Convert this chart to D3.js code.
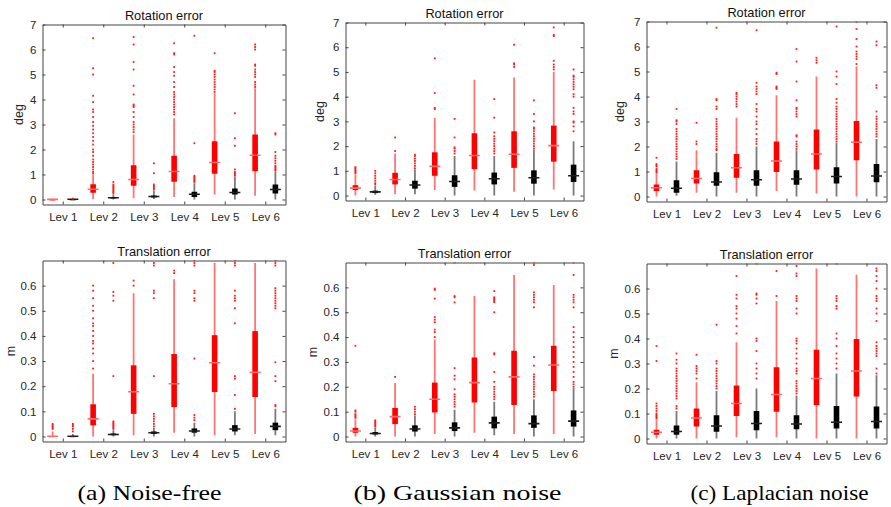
<!DOCTYPE html>
<html><head><meta charset="utf-8">
<script src="https://cdn.jsdelivr.net/npm/d3@7"></script>
<style>body{margin:0;background:#fff}svg{display:block}</style>
</head><body><svg id="c" width="891" height="507"></svg>
<script>
// ---------- labels ----------
const levels = ["Lev 1","Lev 2","Lev 3","Lev 4","Lev 5","Lev 6"];
const rotTicks = [0,1,2,3,4,5,6,7];
const transTicks = [0,0.1,0.2,0.3,0.4,0.5,0.6];
const captions = ["(a) Noise-free","(b) Gaussian noise","(c) Laplacian noise"];
const titles = ["Rotation error","Translation error"];
const units = ["deg","m"];
// box order: red Lev1, black Lev1, red Lev2, black Lev2, ...
// stats: [whiskerLow, q1, median, q3, whiskerHigh]

// ---------- (a) Noise-free ----------
const rotNoiseFreeStats = [
 [0,0,0.005,0.01,0.03],[0,0.005,0.01,0.015,0.03],
 [0.02,0.27,0.41,0.61,1.0],[0,0.04,0.07,0.1,0.2],
 [0.05,0.55,0.8,1.37,2.6],[0.02,0.08,0.12,0.16,0.35],
 [0.1,0.71,1.12,1.75,3.25],[0,0.1,0.21,0.31,0.65],
 [0.2,1.03,1.48,2.33,4.25],[0,0.2,0.28,0.44,0.9],
 [0.15,1.13,1.77,2.6,4.45],[0,0.24,0.4,0.6,1.1]];
const rotNoiseFreeOut = [
 [],[0.035],
 [1.05,1.1,1.2,1.3,1.4,1.5,1.6,1.75,1.9,2.0,2.2,2.35,2.5,2.65,2.8,2.95,3.1,3.3,3.5,3.6,3.9,4.15,5.0,5.25,6.45],
 [0.25,0.3,0.35,0.4,0.45,0.5,0.55,0.6,0.7],
 [2.7,2.8,2.9,3.0,3.1,3.3,3.5,3.7,3.75,3.8,4.2,4.55,5.2,5.5,6.2,6.5],
 [0.4,0.45,0.5,0.55,0.6,1.05,1.45],
 [3.4,3.5,3.6,3.7,3.8,3.9,4.0,4.1,4.2,4.3,4.5,4.7,4.95,5.1,5.3,5.8,5.85,6.25],
 [0.7,0.75,0.8,0.85,0.9,0.95,2.25,6.55],
 [4.3,4.4,4.5,4.6,4.7,4.8,4.9,5.0,5.1,5.15,5.85],
 [0.95,1.0,1.05,1.1,1.2,2.15,2.45,3.45],
 [4.5,4.6,4.7,4.9,5.0,5.1,5.2,5.35,5.4,6.0,6.1,6.2],
 [1.15,1.2,1.25,1.3,1.35,1.45,1.55,1.65,1.75,1.9,2.6,2.65]];
const transNoiseFreeStats = [
 [0,0,0.001,0.002,0.02],[0,0,0.001,0.002,0.01],
 [0,0.044,0.07,0.128,0.25],[0,0.005,0.008,0.012,0.025],
 [0.005,0.09,0.178,0.283,0.57],[0,0.01,0.015,0.02,0.035],
 [0.015,0.117,0.21,0.328,0.625],[0,0.015,0.022,0.032,0.055],
 [0.005,0.177,0.293,0.403,0.69],[0.005,0.02,0.03,0.045,0.1],
 [0.01,0.157,0.255,0.419,0.69],[0.005,0.025,0.04,0.055,0.11]];
const transNoiseFreeOut = [
 [0.03,0.035,0.04,0.045,0.05],[0.02,0.03,0.04,0.045,0.05],
 [0.27,0.3,0.33,0.35,0.37,0.38,0.4,0.42,0.44,0.45,0.47,0.5,0.52,0.55,0.58,0.6],
 [0.03,0.035,0.04,0.045,0.05,0.055,0.06,0.24,0.54,0.56,0.575,0.69],
 [0.6,0.62],
 [0.04,0.05,0.06,0.07,0.08,0.09,0.24,0.55,0.57,0.58,0.68,0.69],
 [0.65,0.66],
 [0.065,0.075,0.085,0.31,0.54,0.55,0.57,0.58,0.68,0.69,0.7],
 [],
 [0.11,0.165,0.23,0.24,0.45,0.51,0.54,0.55,0.56,0.58,0.68,0.69,0.7],
 [],
 [0.12,0.125,0.22,0.24,0.295,0.51,0.52,0.53,0.54,0.55,0.56,0.57,0.58,0.59,0.68,0.69,0.7]];

// ---------- (b) Gaussian noise ----------
const rotGaussStats = [
 [0,0.22,0.3,0.42,0.85],[0.03,0.1,0.15,0.2,0.4],
 [0.05,0.45,0.65,0.92,1.7],[0.05,0.28,0.43,0.6,1.05],
 [0.22,0.8,1.18,1.75,3.15],[0,0.35,0.57,0.82,1.6],
 [0.2,1.07,1.62,2.52,4.68],[0,0.45,0.68,0.93,1.6],
 [0.15,1.12,1.67,2.6,4.78],[0,0.48,0.72,1.02,1.85],
 [0.25,1.37,2.02,2.83,5.0],[0,0.55,0.8,1.25,2.2]];
const rotGaussOut = [
 [0.9,0.95,1.0,1.05,1.1,1.15],
 [0.45,0.5,0.6,0.7,0.8,0.9,1.0],
 [1.8,2.35],
 [1.1,1.2,1.3,1.4,1.5,1.6,1.65],
 [3.5,3.55,4.15,5.55],
 [1.7,1.8,1.9,1.95,2.35,3.1],
 [],
 [1.7,1.8,1.9,2.0,2.1,2.2,2.3,2.4,2.55,3.15,3.9],
 [5.2,5.3,5.35,6.1],
 [1.9,2.0,2.1,2.2,2.3,2.4,2.5,2.6,2.7,2.75,3.0,3.3,3.85],
 [5.1,5.2,5.3,5.45,6.45,6.5,6.8],
 [2.6,2.8,2.95,3.0,3.3,3.4,3.55,4.0,4.1,4.3,4.4,4.5,4.6,4.7,4.8,4.85,5.1]];
const transGaussStats = [
 [0,0.015,0.022,0.035,0.07],[0,0.008,0.012,0.018,0.035],
 [0,0.05,0.08,0.115,0.215],[0,0.02,0.03,0.045,0.085],
 [0.01,0.097,0.15,0.217,0.39],[0,0.022,0.035,0.057,0.108],
 [0.015,0.137,0.217,0.318,0.565],[0.005,0.033,0.055,0.08,0.14],
 [0.01,0.127,0.24,0.345,0.65],[0,0.035,0.052,0.085,0.15],
 [0.01,0.183,0.288,0.365,0.61],[0,0.04,0.062,0.105,0.195]];
const transGaussOut = [
 [0.075,0.08,0.085,0.09,0.1,0.105,0.365],
 [0.04,0.045,0.05,0.055,0.06,0.065],
 [0.24],
 [0.09,0.1,0.11,0.12],
 [0.4,0.42,0.43,0.46,0.47,0.48,0.555,0.59,0.595],
 [0.12,0.13,0.14,0.15,0.16,0.17,0.19,0.23,0.245,0.275,0.54,0.56,0.565,0.7],
 [],
 [0.15,0.16,0.17,0.18,0.19,0.2,0.22,0.26,0.33,0.335,0.5,0.54,0.545,0.55,0.555,0.56,0.585],
 [],
 [0.16,0.17,0.18,0.19,0.2,0.21,0.22,0.23,0.24,0.25,0.285,0.32,0.52,0.54,0.55,0.56,0.57,0.58,0.69,0.7],
 [],
 [0.2,0.21,0.22,0.24,0.26,0.28,0.3,0.32,0.34,0.36,0.38,0.4,0.42,0.44,0.52,0.54,0.55,0.56,0.57,0.65,0.7]];

// ---------- (c) Laplacian noise ----------
const rotLaplaceStats = [
 [0,0.22,0.35,0.48,0.9],[0.03,0.15,0.33,0.65,1.4],
 [0.15,0.52,0.72,1.05,1.85],[0,0.43,0.58,0.97,1.75],
 [0.15,0.75,1.15,1.7,3.15],[0,0.43,0.67,1.05,2.0],
 [0.22,0.98,1.42,2.2,4.05],[0,0.47,0.7,1.05,1.85],
 [0.12,1.08,1.7,2.68,4.8],[0,0.52,0.8,1.17,2.15],
 [0,1.45,2.17,3.02,5.2],[0,0.57,0.82,1.3,2.3]];
const rotLaplaceOut = [
 [0.95,1.0,1.05,1.1,1.2,1.25,1.3,1.55],
 [1.5,1.6,1.7,1.8,1.9,2.0,2.1,2.2,2.3,2.4,2.5,2.6,2.7,2.9,3.0,3.05,3.5],
 [2.1,2.2,2.95],
 [1.85,1.9,2.0,2.1,2.2,2.3,2.4,2.5,2.6,2.7,2.8,2.9,3.0,3.1,3.5,3.6,3.85,3.9,6.75],
 [3.6,3.7,3.8,3.9,4.0,4.1,4.15],
 [2.1,2.2,2.3,2.5,2.7,2.9,3.0,3.2,3.4,3.5,3.7,4.1,4.2,4.3,4.4,4.55,6.65],
 [4.3,4.35,4.4,4.9,4.95],
 [1.9,2.0,2.1,2.2,2.4,2.45,3.2,3.3,3.4,3.5,3.55,3.85,4.6,5.4,5.9],
 [5.35,5.45,5.55],
 [2.2,2.3,2.4,2.5,2.6,2.7,2.8,2.9,3.0,3.1,3.2,3.3,3.4,3.5,3.6,3.75,3.9,4.5,4.8,5.0,6.8],
 [5.3,5.5,5.6,5.7,5.8,6.0,6.3,6.7,7.0],
 [2.4,2.5,2.6,2.7,2.8,2.9,3.0,3.1,3.2,3.4,4.35,4.45,6.05,6.2]];
const transLaplaceStats = [
 [0,0.015,0.025,0.035,0.075],[0,0.015,0.028,0.052,0.11],
 [0,0.048,0.082,0.12,0.225],[0,0.027,0.05,0.093,0.19],
 [0.005,0.09,0.14,0.212,0.385],[0,0.033,0.06,0.11,0.2],
 [0.005,0.107,0.176,0.285,0.55],[0,0.037,0.058,0.093,0.172],
 [0,0.133,0.24,0.355,0.68],[0,0.04,0.065,0.13,0.26],
 [0,0.168,0.27,0.398,0.655],[0,0.04,0.068,0.128,0.253]];
const transLaplaceOut = [
 [0.08,0.085,0.09,0.095,0.1,0.11,0.12,0.13,0.14,0.31,0.37],
 [0.12,0.13,0.16,0.17,0.18,0.19,0.2,0.21,0.22,0.23,0.24,0.25,0.26,0.27,0.28,0.3,0.315,0.34],
 [0.24,0.26,0.27,0.28,0.29,0.335],
 [0.2,0.21,0.22,0.23,0.24,0.25,0.26,0.27,0.28,0.3,0.31,0.455],
 [0.42,0.45,0.48,0.5,0.52,0.53,0.56,0.575,0.65],
 [0.24,0.26,0.28,0.3,0.35,0.39,0.4,0.54,0.56,0.575,0.58,0.7],
 [0.57,0.67],
 [0.18,0.19,0.2,0.21,0.22,0.23,0.26,0.27,0.28,0.3,0.32,0.34,0.36,0.38,0.39,0.4,0.5,0.52,0.55,0.56,0.57,0.65,0.66,0.69],
 [],
 [0.28,0.3,0.32,0.34,0.37,0.4,0.42,0.52,0.53,0.55,0.56,0.57,0.7],
 [],
 [0.26,0.28,0.33,0.34,0.35,0.36,0.37,0.385,0.47,0.5,0.52,0.55,0.56,0.57,0.6,0.63,0.65,0.67,0.68]];

// ---------- panel definitions ----------
const panels = [
 {stats: rotNoiseFreeStats, out: rotNoiseFreeOut, kind: 0},
 {stats: transNoiseFreeStats, out: transNoiseFreeOut, kind: 1},
 {stats: rotGaussStats, out: rotGaussOut, kind: 0},
 {stats: transGaussStats, out: transGaussOut, kind: 1},
 {stats: rotLaplaceStats, out: rotLaplaceOut, kind: 0},
 {stats: transLaplaceStats, out: transLaplaceOut, kind: 1}];

// layout (pixel frames of each axes)
const frames = [
 {l:42.5,r:285.5,t:24.5,b:204.5,ylab:23},
 {l:42.5,r:285.5,t:260.5,b:441.5,ylab:15},
 {l:345.5,r:583.5,t:22.5,b:200.5,ylab:324},
 {l:345.5,r:583.5,t:262.5,b:441.5,ylab:317},
 {l:646.5,r:886.5,t:21.5,b:201.5,ylab:624},
 {l:646.5,r:886.5,t:263.5,b:443.5,ylab:618}];
const capPos = [{x:149.5,w:144},{x:457.5,w:208},{x:779.5,w:178}];

const svg = d3.select("#c");
const FONT = "'Liberation Sans', Arial, Helvetica, sans-serif";
const domains = [[-0.2,7],[-0.02,0.7]];
const tickSets = [rotTicks, transTicks];
const fmt = [d3.format("d"), d => d === 0 ? "0" : d3.format(".1f")(d)];

panels.forEach((p, i) => {
  const f = frames[i];
  const x = d3.scaleLinear().domain([0.5, 12.5]).range([f.l, f.r]);
  const y = d3.scaleLinear().domain(domains[p.kind]).range([f.b, f.t]);
  const g = svg.append("g");
  const clip = "clip" + i;
  svg.append("clipPath").attr("id", clip).append("rect")
    .attr("x", f.l).attr("y", f.t).attr("width", f.r - f.l).attr("height", f.b - f.t);
  const plot = g.append("g").attr("clip-path", `url(#${clip})`);

  p.stats.forEach((s, j) => {
    const red = j % 2 === 0;
    const cx = x(j + 1);
    const main = red ? "#ff0000" : "#000000";
    // whisker
    plot.append("line").attr("x1", cx).attr("x2", cx)
      .attr("y1", y(s[0])).attr("y2", y(s[4]))
      .attr("stroke", red ? "#ff2a2a" : "#333").attr("stroke-opacity", 0.65)
      .attr("stroke-width", 1.8);
    // box
    plot.append("rect").attr("x", cx - 2.8).attr("width", 5.6)
      .attr("y", y(s[3])).attr("height", Math.max(1.2, y(s[1]) - y(s[3])))
      .attr("fill", main);
    // median
    plot.append("line").attr("x1", cx - 5.5).attr("x2", cx + 5.5)
      .attr("y1", y(s[2])).attr("y2", y(s[2]))
      .attr("stroke", red ? "#ff6b6b" : "#1e1e1e").attr("stroke-width", 1.6);
    // outliers
    plot.selectAll(null).data(p.out[j]).enter().append("rect")
      .attr("x", cx - 0.9).attr("y", d => y(d) - 0.9)
      .attr("width", 1.8).attr("height", 1.8)
      .attr("fill", "#ff1a1a");
  });

  const tv = tickSets[p.kind];
  const xt = [1.5, 3.5, 5.5, 7.5, 9.5, 11.5];
  const styleAxis = sel => {
    sel.selectAll("path.domain").attr("stroke", "#444").attr("stroke-width", 1);
    sel.selectAll(".tick line").attr("stroke", "#444");
    sel.selectAll("text").attr("fill", "#262626").style("font-family", FONT).style("font-size", "11.5px");
  };
  g.append("g").attr("transform", `translate(${f.l},0)`)
    .call(d3.axisLeft(y).tickValues(tv).tickFormat(fmt[p.kind]).tickSizeInner(-3).tickSizeOuter(0).tickPadding(6))
    .call(styleAxis);
  g.append("g").attr("transform", `translate(${f.r},0)`)
    .call(d3.axisRight(y).tickValues(tv).tickFormat("").tickSizeInner(-3).tickSizeOuter(0))
    .call(styleAxis);
  g.append("g").attr("transform", `translate(0,${f.b})`)
    .call(d3.axisBottom(x).tickValues(xt).tickFormat((d, k) => levels[k]).tickSizeInner(-3).tickSizeOuter(0).tickPadding(8.5))
    .call(styleAxis);
  g.append("g").attr("transform", `translate(0,${f.t})`)
    .call(d3.axisTop(x).tickValues(xt).tickFormat("").tickSizeInner(-3).tickSizeOuter(0))
    .call(styleAxis);

  // title
  g.append("text").attr("x", (f.l + f.r) / 2).attr("y", f.t - 5)
    .attr("text-anchor", "middle").attr("fill", "#111")
    .style("font-family", FONT).style("font-size", "12.8px")
    .text(titles[p.kind]);
  // y label
  const cy = (f.t + f.b) / 2;
  g.append("text").attr("transform", `translate(${f.ylab},${cy}) rotate(-90)`)
    .attr("text-anchor", "middle").attr("fill", "#262626")
    .style("font-family", FONT).style("font-size", "12.5px")
    .text(units[p.kind]);
});

captions.forEach((c, k) => {
  svg.append("text").attr("x", capPos[k].x).attr("y", 500)
    .attr("text-anchor", "middle").attr("fill", "#000")
    .attr("textLength", capPos[k].w).attr("lengthAdjust", "spacingAndGlyphs")
    .style("font-family", "'Liberation Serif', 'Times New Roman', serif")
    .style("font-size", "21px")
    .text(c);
});
</script></body></html>
